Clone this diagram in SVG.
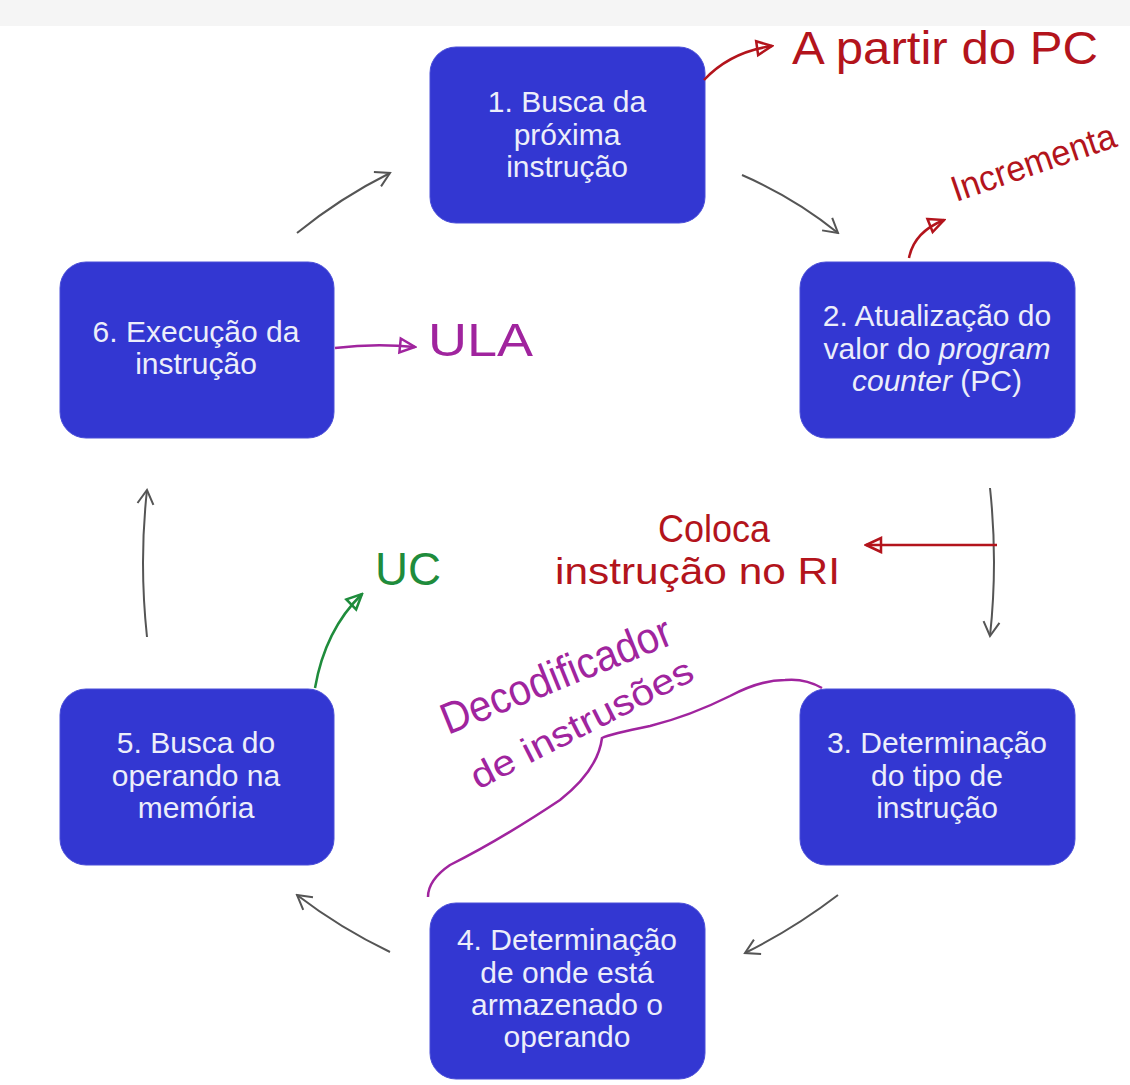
<svg xmlns="http://www.w3.org/2000/svg" width="1130" height="1085" viewBox="0 0 1130 1085">
<style>
.box{fill:#3337d2;stroke:#4a4ed8;stroke-width:1}
.lbl{font-family:"Liberation Sans",Arial,sans-serif;font-size:30px;fill:#eceefa;text-anchor:middle}
.conn{fill:none;stroke:#555;stroke-width:2}
.hw{font-family:"Liberation Sans",Arial,sans-serif;font-weight:normal}
.red{fill:#b3141c}
.grn{fill:#1f8c3c}
.pur{fill:#a0249e}
</style>
<defs>
<marker id="ah" viewBox="0 0 20 20" refX="18" refY="10" markerWidth="20" markerHeight="20" markerUnits="userSpaceOnUse" orient="auto">
<path d="M4,2 L18,10 L4,18" fill="none" stroke="#555" stroke-width="2"/>
</marker>
<marker id="tr" viewBox="0 0 20 20" refX="18" refY="10" markerWidth="20" markerHeight="20" markerUnits="userSpaceOnUse" orient="auto">
<path d="M3,3 L18,10 L3,17 Z" fill="none" stroke="#b3141c" stroke-width="2.5"/>
</marker>
<marker id="tg" viewBox="0 0 20 20" refX="18" refY="10" markerWidth="20" markerHeight="20" markerUnits="userSpaceOnUse" orient="auto">
<path d="M3,3 L18,10 L3,17 Z" fill="none" stroke="#1f8c3c" stroke-width="2.5"/>
</marker>
<marker id="tp" viewBox="0 0 20 20" refX="18" refY="10" markerWidth="20" markerHeight="20" markerUnits="userSpaceOnUse" orient="auto">
<path d="M3,3 L18,10 L3,17 Z" fill="none" stroke="#a0249e" stroke-width="2.5"/>
</marker>
</defs>
<rect width="1130" height="1085" fill="#ffffff"/>
<rect width="1130" height="26" fill="#f5f5f5"/>

<g id="connectors">
<path class="conn" d="M742,175 Q795,198 838,233" marker-end="url(#ah)"/>
<path class="conn" d="M990,488 Q998,562 990,636" marker-end="url(#ah)"/>
<path class="conn" d="M838,895 Q795,928 745,953" marker-end="url(#ah)"/>
<path class="conn" d="M390,952 Q340,928 297,895" marker-end="url(#ah)"/>
<path class="conn" d="M147,637 Q139,562 147,490" marker-end="url(#ah)"/>
<path class="conn" d="M297,233 Q340,198 390,173" marker-end="url(#ah)"/>
</g>

<g id="node1">
<rect class="box" x="430" y="47" width="275" height="176" rx="26"/>
<text class="lbl" x="567" y="112">1. Busca da</text>
<text class="lbl" x="567" y="145">próxima</text>
<text class="lbl" x="567" y="177">instrução</text>
</g>
<g id="node2">
<rect class="box" x="800" y="262" width="275" height="176" rx="26"/>
<text class="lbl" x="937" y="326">2. Atualização do</text>
<text class="lbl" x="937" y="359">valor do <tspan font-style="italic">program</tspan></text>
<text class="lbl" x="937" y="391"><tspan font-style="italic">counter</tspan> (PC)</text>
</g>
<g id="node3">
<rect class="box" x="800" y="689" width="275" height="176" rx="26"/>
<text class="lbl" x="937" y="753">3. Determinação</text>
<text class="lbl" x="937" y="786">do tipo de</text>
<text class="lbl" x="937" y="818">instrução</text>
</g>
<g id="node4">
<rect class="box" x="430" y="903" width="275" height="176" rx="26"/>
<text class="lbl" x="567" y="950">4. Determinação</text>
<text class="lbl" x="567" y="983">de onde está</text>
<text class="lbl" x="567" y="1015">armazenado o</text>
<text class="lbl" x="567" y="1047">operando</text>
</g>
<g id="node5">
<rect class="box" x="60" y="689" width="274" height="176" rx="26"/>
<text class="lbl" x="196" y="753">5. Busca do</text>
<text class="lbl" x="196" y="786">operando na</text>
<text class="lbl" x="196" y="818">memória</text>
</g>
<g id="node6">
<rect class="box" x="60" y="262" width="274" height="176" rx="26"/>
<text class="lbl" x="196" y="342">6. Execução da</text>
<text class="lbl" x="196" y="374">instrução</text>
</g>

<g id="annotations">
<path d="M704,80 Q730,52 772,46" fill="none" stroke="#b3141c" stroke-width="2.5" marker-end="url(#tr)"/>
<text class="hw red" x="792" y="64" font-size="46" textLength="306" lengthAdjust="spacingAndGlyphs">A partir do PC</text>

<path d="M909,258 Q914,232 944,220" fill="none" stroke="#b3141c" stroke-width="2.5" marker-end="url(#tr)"/>
<text class="hw red" x="956" y="202" font-size="36" transform="rotate(-19 956 202)" textLength="172" lengthAdjust="spacingAndGlyphs">Incrementa</text>

<path d="M997,545 L866,545" fill="none" stroke="#b3141c" stroke-width="2.5" marker-end="url(#tr)"/>
<text class="hw red" x="658" y="542" font-size="38" textLength="112" lengthAdjust="spacingAndGlyphs">Coloca</text>
<text class="hw red" x="555" y="584" font-size="36" textLength="285" lengthAdjust="spacingAndGlyphs">instrução no RI</text>

<path d="M315,688 Q325,630 362,594" fill="none" stroke="#1f8c3c" stroke-width="2.5" marker-end="url(#tg)"/>
<text class="hw grn" x="375" y="585" font-size="46" textLength="66" lengthAdjust="spacingAndGlyphs">UC</text>

<path d="M335,348 Q375,343 415,347" fill="none" stroke="#a0249e" stroke-width="2.5" marker-end="url(#tp)"/>
<text class="hw pur" x="428" y="356" font-size="46" textLength="105" lengthAdjust="spacingAndGlyphs">ULA</text>

<path d="M822,688 Q805,678 785,680 Q760,680 730,696 Q690,716 650,726 Q610,734 602,738 Q598,770 560,800 Q500,840 450,865 Q428,880 428,897" fill="none" stroke="#a0249e" stroke-width="2.5"/>
<text class="hw pur" x="448" y="735" font-size="44" transform="rotate(-22 448 735)" textLength="245" lengthAdjust="spacingAndGlyphs">Decodificador</text>
<text class="hw pur" x="478" y="790" font-size="36" transform="rotate(-27 478 790)" textLength="245" lengthAdjust="spacingAndGlyphs">de instrusões</text>
</g>
</svg>
